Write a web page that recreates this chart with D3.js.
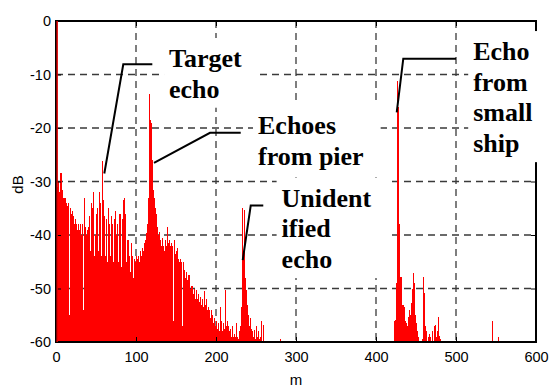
<!DOCTYPE html>
<html>
<head>
<meta charset="utf-8">
<script src="https://cdn.jsdelivr.net/npm/d3@7"></script>
<style>
  html, body { margin: 0; padding: 0; background: #fff; }
  svg { display: block; }
</style>
</head>
<body>
<svg id="chart"></svg>
<script>
// ---- data ----
const xTicks = [0, 100, 200, 300, 400, 500, 600];
const yTicks = [0, -10, -20, -30, -40, -50, -60];

// near-range echo level, one value per metre from 0 m to 260 m
const nearDb = [
    0, -27, -31, -30, -32, -31, -28.5, -28.5, -31.5, -33,
    -33, -50, -33, -34, -34.5, -34, -35, -55, -35, -36,
    -35.5, -37, -36.5, -38, -37, -52, -38, -39, -38, -39,
    -38, -38.5, -40, -38, -54, -33, -39, -38.5, -40, -39,
    -38.5, -42, -36.5, -43, -34, -41, -35, -32, -44, -40,
    -36, -42, -35, -43, -32, -41, -34, -44, -26.2, -33.5,
    -42, -36.5, -44, -37, -45, -35, -42, -38, -44, -36.5,
    -43, -38, -45, -37, -35.5, -44, -40, -38, -45, -36,
    -43, -36, -46, -37, -33.5, -33, -42, -36, -45, -41,
    -46, -41, -44, -47, -41.5, -46, -44, -48, -44.5, -45,
    -50, -44, -44.5, -44, -45, -44, -43, -44, -42.5, -43,
    -44, -41.5, -41, -39.7, -38, -36.6, -33, -13.7, -18.5, -19,
    -26, -27, -31.5, -33, -35, -37, -36, -38.5, -40, -39.5,
    -42, -41, -42, -40.5, -42, -43, -55, -41, -42, -38.5,
    -41.5, -42, -41, -42, -41.5, -43, -42, -56, -41, -43.5,
    -43, -44, -42.5, -44.5, -45, -44.5, -46, -45, -57, -45,
    -47, -46.5, -48, -47, -48.5, -47.5, -48, -47.5, -50, -49.5,
    -58, -49.5, -51, -50, -52, -51, -50.3, -52, -51, -52.5,
    -51.5, -59, -53, -52, -53.5, -52, -50.5, -53, -52, -54,
    -53.5, -55, -54, -55.5, -54, -56, -55, -56.5, -55.6, -57,
    -56, -56.8, -57.5, -56.5, -58, -53.4, -57, -56, -58, -56.5,
    -57.5, -58, -50.3, -57, -56, -58.5, -57, -58, -57.5, -59,
    -58, -57, -59, -58.5, -59, -58, -56.5, -59, -59.5, -58,
    -59, -57, -53.4, -35, -44, -35.3, -45, -48, -50.3, -53,
    -55, -56, -57, -55.5, -57.5, -59, -58, -59, -57.7, -59.5,
    -57, -58.5, -59, -58, -59.5, -60, -59, -56, -60, -56.8,
    -60
];

// far-range returns (small ship and scattered points)
const farMeters = [
    281,
    423, 424, 425, 426, 427, 428, 429, 430, 431, 432,
    433, 434, 435, 436, 437, 438, 439, 440, 441, 442,
    443, 444, 445, 446, 447, 448, 449, 450, 451, 452,
    453, 458, 459, 460, 461, 462, 463, 465, 466, 467,
    468, 470, 471, 473, 474, 475, 477, 478, 479, 480,
    545, 553
];
const farDb = [
    -59.5,
    -56, -55.9, -49, -52, -11.2, -16, -38, -47.8, -50, -47.8,
    -53, -53.1, -54, -53.4, -56, -56.5, -57, -55.3, -56, -54,
    -55, -52.8, -54, -50, -47.1, -49, -55, -56.5, -57.1, -58,
    -59, -59.5, -47.8, -55, -50.9, -57.1, -58, -59, -59, -58.5,
    -59, -59, -58, -57, -56.8, -59, -58, -55.3, -58.9, -59.5,
    -56, -59
];

// annotations: text lines, text anchor (m, dB of first baseline), leader line points (m, dB)
const notes = [
    { lines: ['Target', 'echo'], at: [141.3, -8.6],
      leader: [[60.4, -28.5], [84.1, -8.1], [120.4, -8.1]] },
    { lines: ['Echoes', 'from pier'], at: [252.5, -21.1],
      leader: [[122.5, -26.5], [192.5, -20.9], [230.9, -20.9]] },
    { lines: ['Unident', 'ified', 'echo'], at: [282, -34.7],
      leader: [[233.4, -44.7], [243.4, -34.5], [259.1, -34.5]] },
    { lines: ['Echo', 'from', 'small', 'ship'], at: [521.5, -7.3],
      leader: [[425.9, -17.1], [434.1, -7.05], [500, -7.05]] }
];

// ---- layout ----
const width = 549, height = 387;
const margin = { top: 21, right: 13, bottom: 45, left: 56 };

const svg = d3.select('#chart')
    .attr('width', width)
    .attr('height', height);

const x = d3.scaleLinear().domain([0, 600]).range([margin.left, width - margin.right]);
const y = d3.scaleLinear().domain([-60, 0]).range([height - margin.bottom, margin.top]);

svg.append('rect')
    .attr('width', width)
    .attr('height', height)
    .attr('fill', '#fff');

// grid
const grid = svg.append('g')
    .attr('stroke', '#3a3a3a')
    .attr('stroke-width', 1.3)
    .attr('stroke-dasharray', '7,5');

grid.selectAll('line.gx')
    .data(xTicks.slice(1, -1))
    .join('line')
    .attr('class', 'gx')
    .attr('x1', d => x(d)).attr('x2', d => x(d))
    .attr('y1', y(0)).attr('y2', y(-60));

grid.selectAll('line.gy')
    .data(yTicks.slice(1, -1))
    .join('line')
    .attr('class', 'gy')
    .attr('y1', d => y(d)).attr('y2', d => y(d))
    .attr('x1', x(0)).attr('x2', x(600));

// echo bars
const points = nearDb.map((v, i) => ({ m: i, db: v }))
    .concat(farMeters.map((m, i) => ({ m: m, db: farDb[i] })));

svg.append('g')
    .attr('shape-rendering', 'crispEdges')
    .selectAll('rect')
    .data(points.filter(d => d.m > 0))
    .join('rect')
    .attr('x', d => x(d.m) - 0.5)
    .attr('width', 1)
    .attr('y', d => y(d.db))
    .attr('height', d => y(-60) - y(d.db))
    .attr('fill', '#ff0000');

// axes
const fontSans = '"Liberation Sans", Arial, sans-serif';

const axL = svg.append('g')
    .attr('transform', `translate(${x(0)},0)`)
    .call(d3.axisLeft(y).tickValues(yTicks).tickSize(-5).tickPadding(5).tickFormat(d => String(d)));
const axB = svg.append('g')
    .attr('transform', `translate(0,${y(-60)})`)
    .call(d3.axisBottom(x).tickValues(xTicks).tickSize(-5).tickPadding(10).tickFormat(d => String(d)));
const axR = svg.append('g')
    .attr('transform', `translate(${x(600)},0)`)
    .call(d3.axisRight(y).tickValues(yTicks).tickSize(-5).tickFormat(''));
const axT = svg.append('g')
    .attr('transform', `translate(0,${y(0)})`)
    .call(d3.axisTop(x).tickValues(xTicks).tickSize(-5).tickFormat(''));

[axL, axB, axR, axT].forEach(g => {
    g.select('.domain').remove();
    g.selectAll('line').attr('stroke', '#000').attr('stroke-width', 1);
    g.selectAll('text')
        .attr('fill', '#000')
        .style('font-family', fontSans)
        .style('font-size', '14.5px');
});

svg.append('rect')
    .attr('x', x(0))
    .attr('y', y(0))
    .attr('width', x(600) - x(0))
    .attr('height', y(-60) - y(0))
    .attr('fill', 'none')
    .attr('stroke', '#000')
    .attr('stroke-width', 2);

// the 0 m sample sits on the left axis line, draw it over the frame
svg.append('g')
    .selectAll('rect')
    .data(points.filter(d => d.m === 0))
    .join('rect')
    .attr('x', d => x(d.m) + 0.4)
    .attr('width', 1.5)
    .attr('y', d => y(d.db))
    .attr('height', d => y(-60) - y(d.db))
    .attr('fill', '#e00000');

// axis titles
svg.append('text')
    .attr('x', (x(0) + x(600)) / 2)
    .attr('y', 385)
    .attr('text-anchor', 'middle')
    .style('font-family', fontSans)
    .style('font-size', '15px')
    .text('m');

svg.append('text')
    .attr('transform', `translate(23,${(y(0) + y(-60)) / 2 + 3}) rotate(-90)`)
    .attr('text-anchor', 'middle')
    .style('font-family', fontSans)
    .style('font-size', '15px')
    .text('dB');

// annotations
const lineH = 30.7;
const noteLayer = svg.append('g');

notes.forEach(n => {
    const g = noteLayer.append('g');
    const box = g.append('rect').attr('fill', '#fff');
    const t = g.append('text')
        .attr('x', x(n.at[0]))
        .attr('y', y(n.at[1]))
        .attr('fill', '#000')
        .style('font-family', '"Liberation Serif", "Times New Roman", serif')
        .style('font-weight', 'bold')
        .style('font-size', '26px');
    n.lines.forEach((s, i) => {
        t.append('tspan')
            .attr('x', x(n.at[0]))
            .attr('y', y(n.at[1]) + i * lineH)
            .text(s);
    });
    const bb = t.node().getBBox();
    box.attr('x', bb.x - 5)
        .attr('y', bb.y - 6)
        .attr('width', bb.width + 22)
        .attr('height', bb.height + 10);
});

const leader = d3.line().x(d => x(d[0])).y(d => y(d[1]));
noteLayer.selectAll('path.leader')
    .data(notes)
    .join('path')
    .attr('class', 'leader')
    .attr('d', d => leader(d.leader))
    .attr('fill', 'none')
    .attr('stroke', '#000')
    .attr('stroke-width', 2);
</script>
</body>
</html>
